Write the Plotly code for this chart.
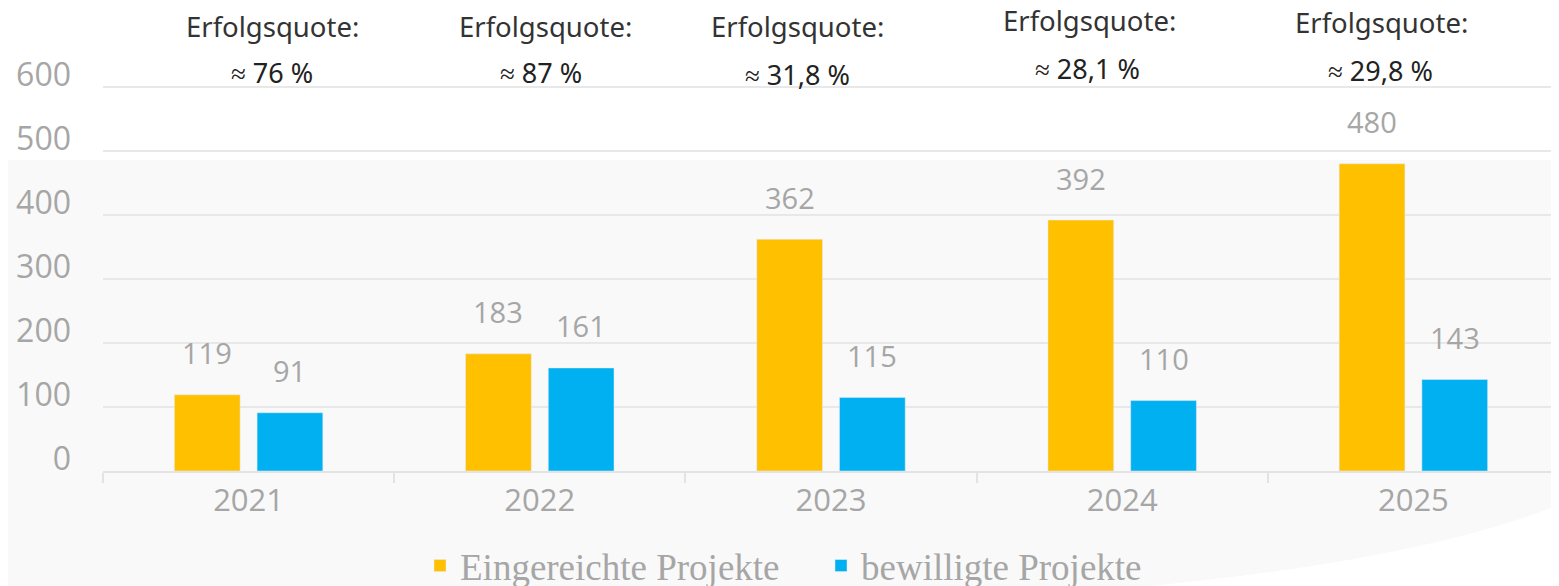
import plotly.graph_objects as go

years = ["2021", "2022", "2023", "2024", "2025"]
eingereicht = [119, 183, 362, 392, 480]
bewilligt = [91, 161, 115, 110, 143]
quoten = ["≈ 76 %", "≈ 87 %", "≈ 31,8 %", "≈ 28,1 %", "≈ 29,8 %"]
y_ticks = [0, 100, 200, 300, 400, 500, 600]
Y_MAX = 603

# the page body has an 8px default margin; work in screen pixels and convert
OFF = 8
SW, SH = 1559, 586
W, H = SW - OFF, SH - OFF
PX_PER_UNIT = (471 - 87) / 600
L, R, B = 103 - OFF, 0, SH - 471
T = round(87 - OFF - (Y_MAX - 600) * PX_PER_UNIT)
PW, PH = W - L - R, H - T - B

def px(x):
    return (x - OFF - L) / PW

def py(y):
    return (H - B - (y - OFF)) / PH

YELLOW = "#FFC000"
BLUE = "#00B0F0"
GRAY = "#a6a6a6"
BARGAP = 0.432

fig = go.Figure()
fig.add_bar(x=years, y=eingereicht, name="Eingereichte Projekte", marker_color=YELLOW)
fig.add_bar(x=years, y=bewilligt, name="bewilligte Projekte", marker_color=BLUE)

ann = []
half = (1 - BARGAP) / 4
for i, (a, b) in enumerate(zip(eingereicht, bewilligt)):
    for v, s in ((a, -half), (b, half)):
        ann.append(dict(x=i + s, y=v, text=str(v), showarrow=False, yshift=42,
                        yanchor="middle", font=dict(family="Open Sans", size=29, color=GRAY)))

q_x1 = [272, 545, 797, 1089, 1381]
q_x2 = [272, 541, 797, 1087, 1380]
q_y1 = [27, 27, 27, 20, 22]
q_y2 = [72, 72, 75, 68, 70]
for i, q in enumerate(quoten):
    ann.append(dict(xref="paper", yref="paper", x=px(q_x1[i]), y=py(q_y1[i]), text="Erfolgsquote:",
                    showarrow=False, xanchor="center", yanchor="middle",
                    font=dict(family="Noto Sans", size=27.5, color="#333333")))
    ann.append(dict(xref="paper", yref="paper", x=px(q_x2[i]), y=py(q_y2[i]), text=q,
                    showarrow=False, xanchor="center", yanchor="middle",
                    font=dict(family="Noto Sans", size=27, color="#222222")))

shapes = [
    dict(type="rect", xref="paper", yref="paper", x0=px(OFF), x1=px(SW), y0=py(SH), y1=py(160),
         fillcolor="#f9f9f9", line_width=0, layer="below"),
    dict(type="path", xref="paper", yref="paper",
         path=f"M {px(1150)},{py(SH)} Q {px(1420)},{py(560)} {px(SW)},{py(505)} L {px(SW)},{py(SH)} Z",
         fillcolor="#ffffff", line_width=0, layer="below"),
]

fig.update_layout(
    width=W, height=H,
    margin=dict(l=L, r=R, t=T, b=B, autoexpand=False),
    paper_bgcolor="#ffffff", plot_bgcolor="rgba(0,0,0,0)",
    barmode="group", bargap=BARGAP, bargroupgap=0.205,
    showlegend=True,
    legend=dict(orientation="h", x=px(420), xanchor="left", y=py(566), yanchor="middle",
                font=dict(family="Liberation Serif", size=37, color=GRAY), valign="bottom",
                entrywidth=356, entrywidthmode="pixels",
                tracegroupgap=0, bgcolor="rgba(0,0,0,0)"),
    annotations=ann, shapes=shapes,
    xaxis=dict(type="category", range=[-0.5, len(years) - 0.5], automargin=False,
               showline=True, linecolor="#e3e3e3", linewidth=2,
               ticks="outside", tickson="boundaries", ticklen=10, tickcolor="#e3e3e3", tickwidth=2,
               ticklabelstandoff=1,
               tickfont=dict(family="Open Sans", size=31, color=GRAY), showgrid=False),
    yaxis=dict(range=[0, Y_MAX], tickvals=y_ticks, automargin=False,
               showgrid=True, gridcolor="#e8e8e8", gridwidth=2,
               zeroline=False, showline=False, ticklabelposition="outside",
               ticklabelshift=-12, ticklabelstandoff=31,
               tickfont=dict(family="Open Sans", size=32, color=GRAY)),
)

fig.write_html("out.html")
